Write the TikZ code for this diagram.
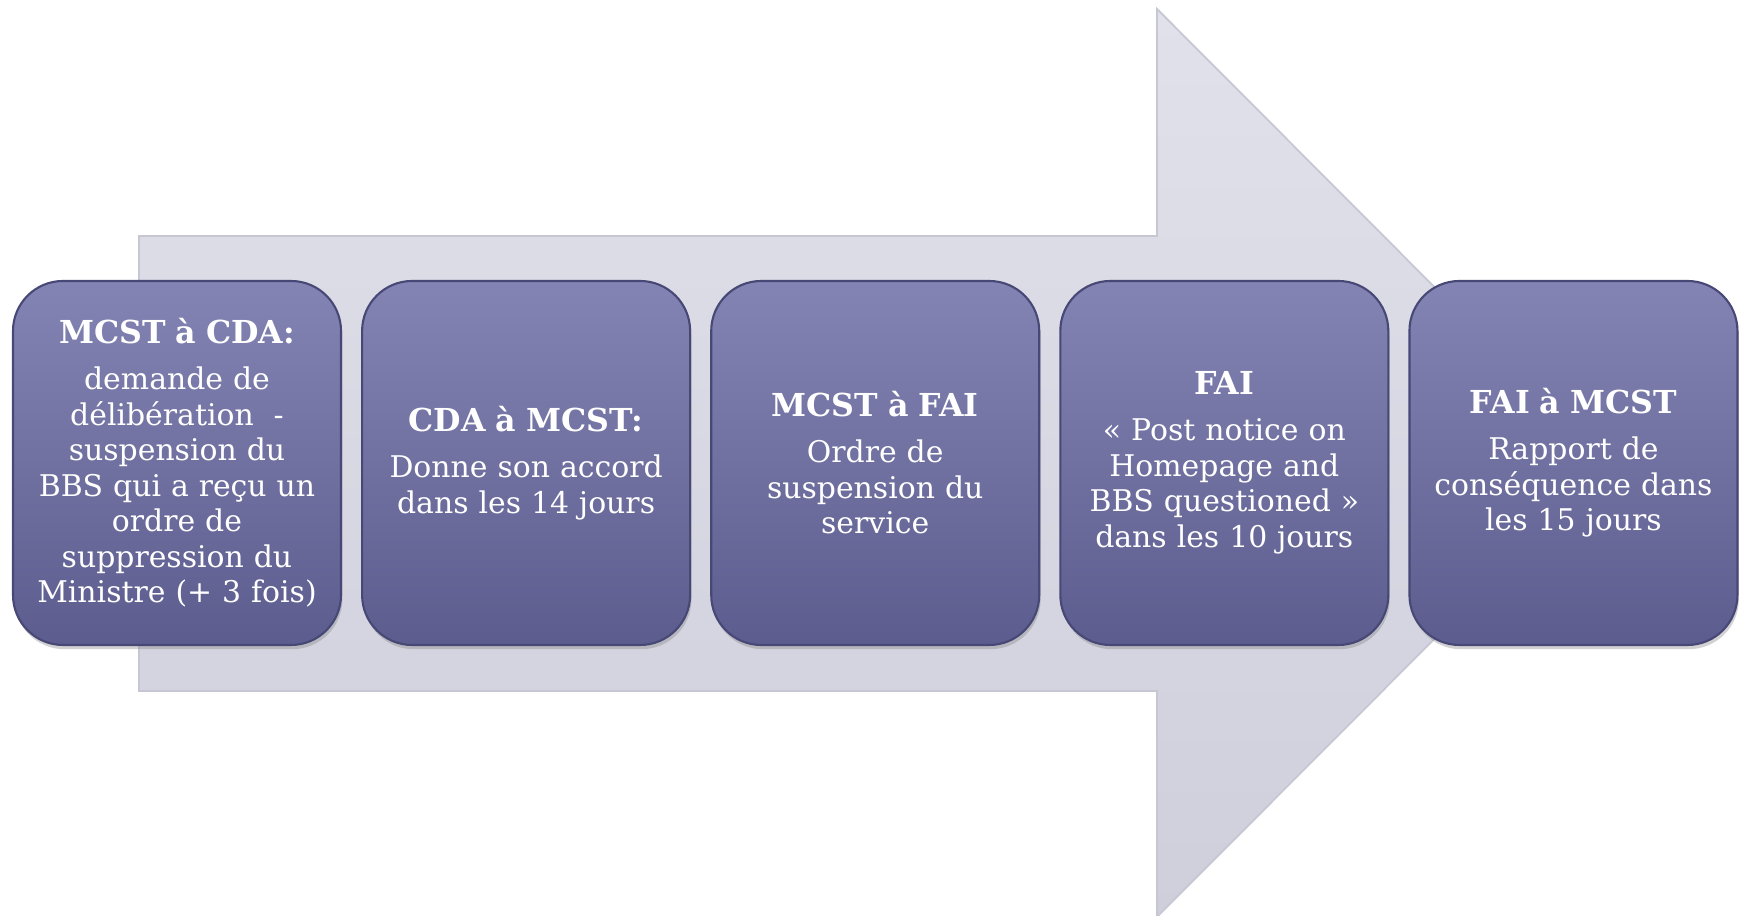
\documentclass[tikz,border=0pt]{standalone}
\usepackage{fontspec}
\setmainfont{DejaVu Serif}
\usetikzlibrary{positioning,shadows}
\definecolor{flecheHaut}{RGB}{224,225,234}
\definecolor{flecheBas}{RGB}{206,207,219}
\definecolor{flecheBord}{RGB}{198,199,211}
\definecolor{etapeHaut}{RGB}{132,132,180}
\definecolor{etapeBas}{RGB}{92,92,142}
\definecolor{etapeBord}{RGB}{72,72,118}
\tikzset{
  etape/.style={rounded corners=0.5cm, minimum width=3.28cm, minimum height=3.64cm,
    text width=3.1cm, align=center, text=white, inner sep=0pt,
    top color=etapeHaut, bottom color=etapeBas, draw=etapeBord, line width=0.6pt,
    drop shadow={shadow xshift=0.4pt, shadow yshift=-1.2pt, opacity=0.35},
    font=\fontsize{8.5}{10.1}\selectfont}
}
\newcommand{\entete}[1]{{\bfseries\fontsize{9}{10.1}\selectfont #1}\\[3pt]}
\begin{document}
\begin{tikzpicture}
    \useasboundingbox (0,0) rectangle (17.44,9.16);
    \fill[white] (0,0) rectangle (17.44,9.16);
    \draw[flecheBord, top color=flecheHaut, bottom color=flecheBas, line width=0.5pt]
        (1.39,2.25) -- (1.39,6.80) -- (11.57,6.80) -- (11.57,9.07)
        -- (16.10,4.53) -- (11.57,-0.01) -- (11.57,2.25) -- cycle;
    \node[etape] (e1) at (1.77,4.53) {\entete{MCST à CDA:}demande de\\ délibération~ -\\ suspension du\\ BBS qui a reçu un\\ ordre de\\ suppression du\\ Ministre (+ 3 fois)};
    \node[etape, right=0.19cm of e1] (e2) {\entete{CDA à MCST:}Donne son accord\\ dans les 14 jours};
    \node[etape, right=0.19cm of e2] (e3) {\entete{MCST à FAI}Ordre de\\ suspension du\\ service};
    \node[etape, right=0.19cm of e3] (e4) {\entete{FAI}« Post notice on\\ Homepage and\\ BBS questioned »\\ dans les 10 jours};
    \node[etape, right=0.19cm of e4] (e5) {\entete{FAI à MCST}Rapport de\\ conséquence dans\\ les 15 jours};
\end{tikzpicture}
\end{document}
